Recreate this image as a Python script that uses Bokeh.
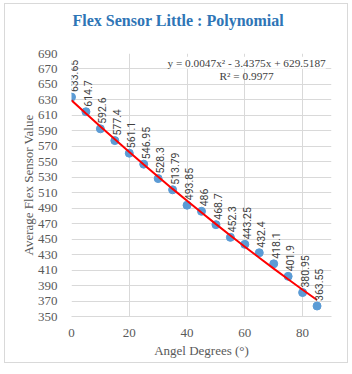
import math
from bokeh.plotting import figure
from bokeh.models import ColumnDataSource, FixedTicker, Label, Title
from bokeh.embed import file_html
from bokeh.resources import INLINE

angles = [0, 5, 10, 15, 20, 25, 30, 35, 40, 45, 50, 55, 60, 65, 70, 75, 80, 85]
sensor = [633.65, 614.7, 592.6, 577.4, 561.1, 546.95, 528.3, 513.79, 493.85,
          486, 468.7, 452.3, 443.25, 432.4, 418.1, 401.9, 380.95, 363.55]
labels = ["633.65", "614.7", "592.6", "577.4", "561.1", "546.95", "528.3", "513.79", "493.85",
          "486", "468.7", "452.3", "443.25", "432.4", "418.1", "401.9", "380.95", "363.55"]
trend_coef = [0.0047, -3.4375, 629.5187]
x_ticks = [0, 20, 40, 60, 80]
y_ticks = list(range(350, 691, 20))
title_text = "Flex Sensor Little : Polynomial"
eq_line1 = "y = 0.0047x\u00b2 - 3.4375x + 629.5187"
eq_line2 = "R\u00b2 = 0.9977"

trend = [trend_coef[0] * a * a + trend_coef[1] * a + trend_coef[2] for a in angles]
src = ColumnDataSource(dict(x=angles, y=sensor, t=trend))

SERIF = "Liberation Serif"
p = figure(width=344, height=360, output_backend="svg", toolbar_location=None,
           x_range=(0, 90), y_range=(350, 690),
           min_border_left=66, min_border_right=18, min_border_top=49, min_border_bottom=48)
p.styles = {"border": "1px solid #d9d9d9", "margin-left": "4px", "margin-top": "3px"}
p.outline_line_color = None
p.background_fill_color = "white"
p.border_fill_color = "white"

# spacer between plot frame and title
p.add_layout(Title(text=" ", text_font_size="1px", standoff=18, text_color="white"), "above")
p.add_layout(Title(text=title_text, text_font=SERIF, text_font_size="16px",
                   text_font_style="bold", text_color="#2E75B6", align="left", offset=1,
                   vertical_align="top", standoff=4), "above")

p.xaxis.ticker = FixedTicker(ticks=x_ticks)
p.yaxis.ticker = FixedTicker(ticks=y_ticks)
for ax in (p.xaxis[0], p.yaxis[0]):
    ax.major_label_text_font = SERIF
    ax.major_label_text_font_size = "13px"
    ax.major_label_text_color = "#595959"
    ax.axis_label_text_font = SERIF
    ax.axis_label_text_font_size = "13px"
    ax.axis_label_text_color = "#595959"
    ax.axis_label_text_font_style = "normal"
    ax.major_tick_line_color = None
    ax.minor_tick_line_color = None
p.xaxis.axis_line_color = "#d9d9d9"
p.yaxis.axis_line_color = None
p.xaxis.axis_label = "Angel Degrees (\u00b0)"
p.yaxis.axis_label = "Average Flex Sensor Value"
p.xaxis.major_label_standoff = 6
p.yaxis.major_label_standoff = 8
p.xaxis.axis_label_standoff = 3
p.yaxis.axis_label_standoff = -1

p.xgrid.ticker = FixedTicker(ticks=x_ticks)
p.ygrid.ticker = FixedTicker(ticks=y_ticks)
p.grid.grid_line_color = "#d9d9d9"
p.grid.grid_line_width = 1

p.scatter("x", "y", source=src, size=8, color="#5B9BD5", line_color="#5B9BD5")
p.line("x", "t", source=src, line_color="#FF0000", line_width=2)

for xa, ys, lb in zip(angles, sensor, labels):
    p.add_layout(Label(x=xa, y=ys, text=lb, angle=math.pi / 2, x_offset=2, y_offset=5,
                       text_align="left", text_baseline="middle", text_font="Roboto",
                       text_font_size="10.5px", text_color="#404040"))

for txt, yy in ((eq_line1, 678), (eq_line2, 661.5)):
    p.add_layout(Label(x=60.6, y=yy, text=txt, text_align="center", text_baseline="middle",
                       text_font=SERIF, text_font_size="11.3px", text_color="#404040",
                       background_fill_color="white" if txt == eq_line1 else None))

open("out.html", "w").write(file_html(p, INLINE))
